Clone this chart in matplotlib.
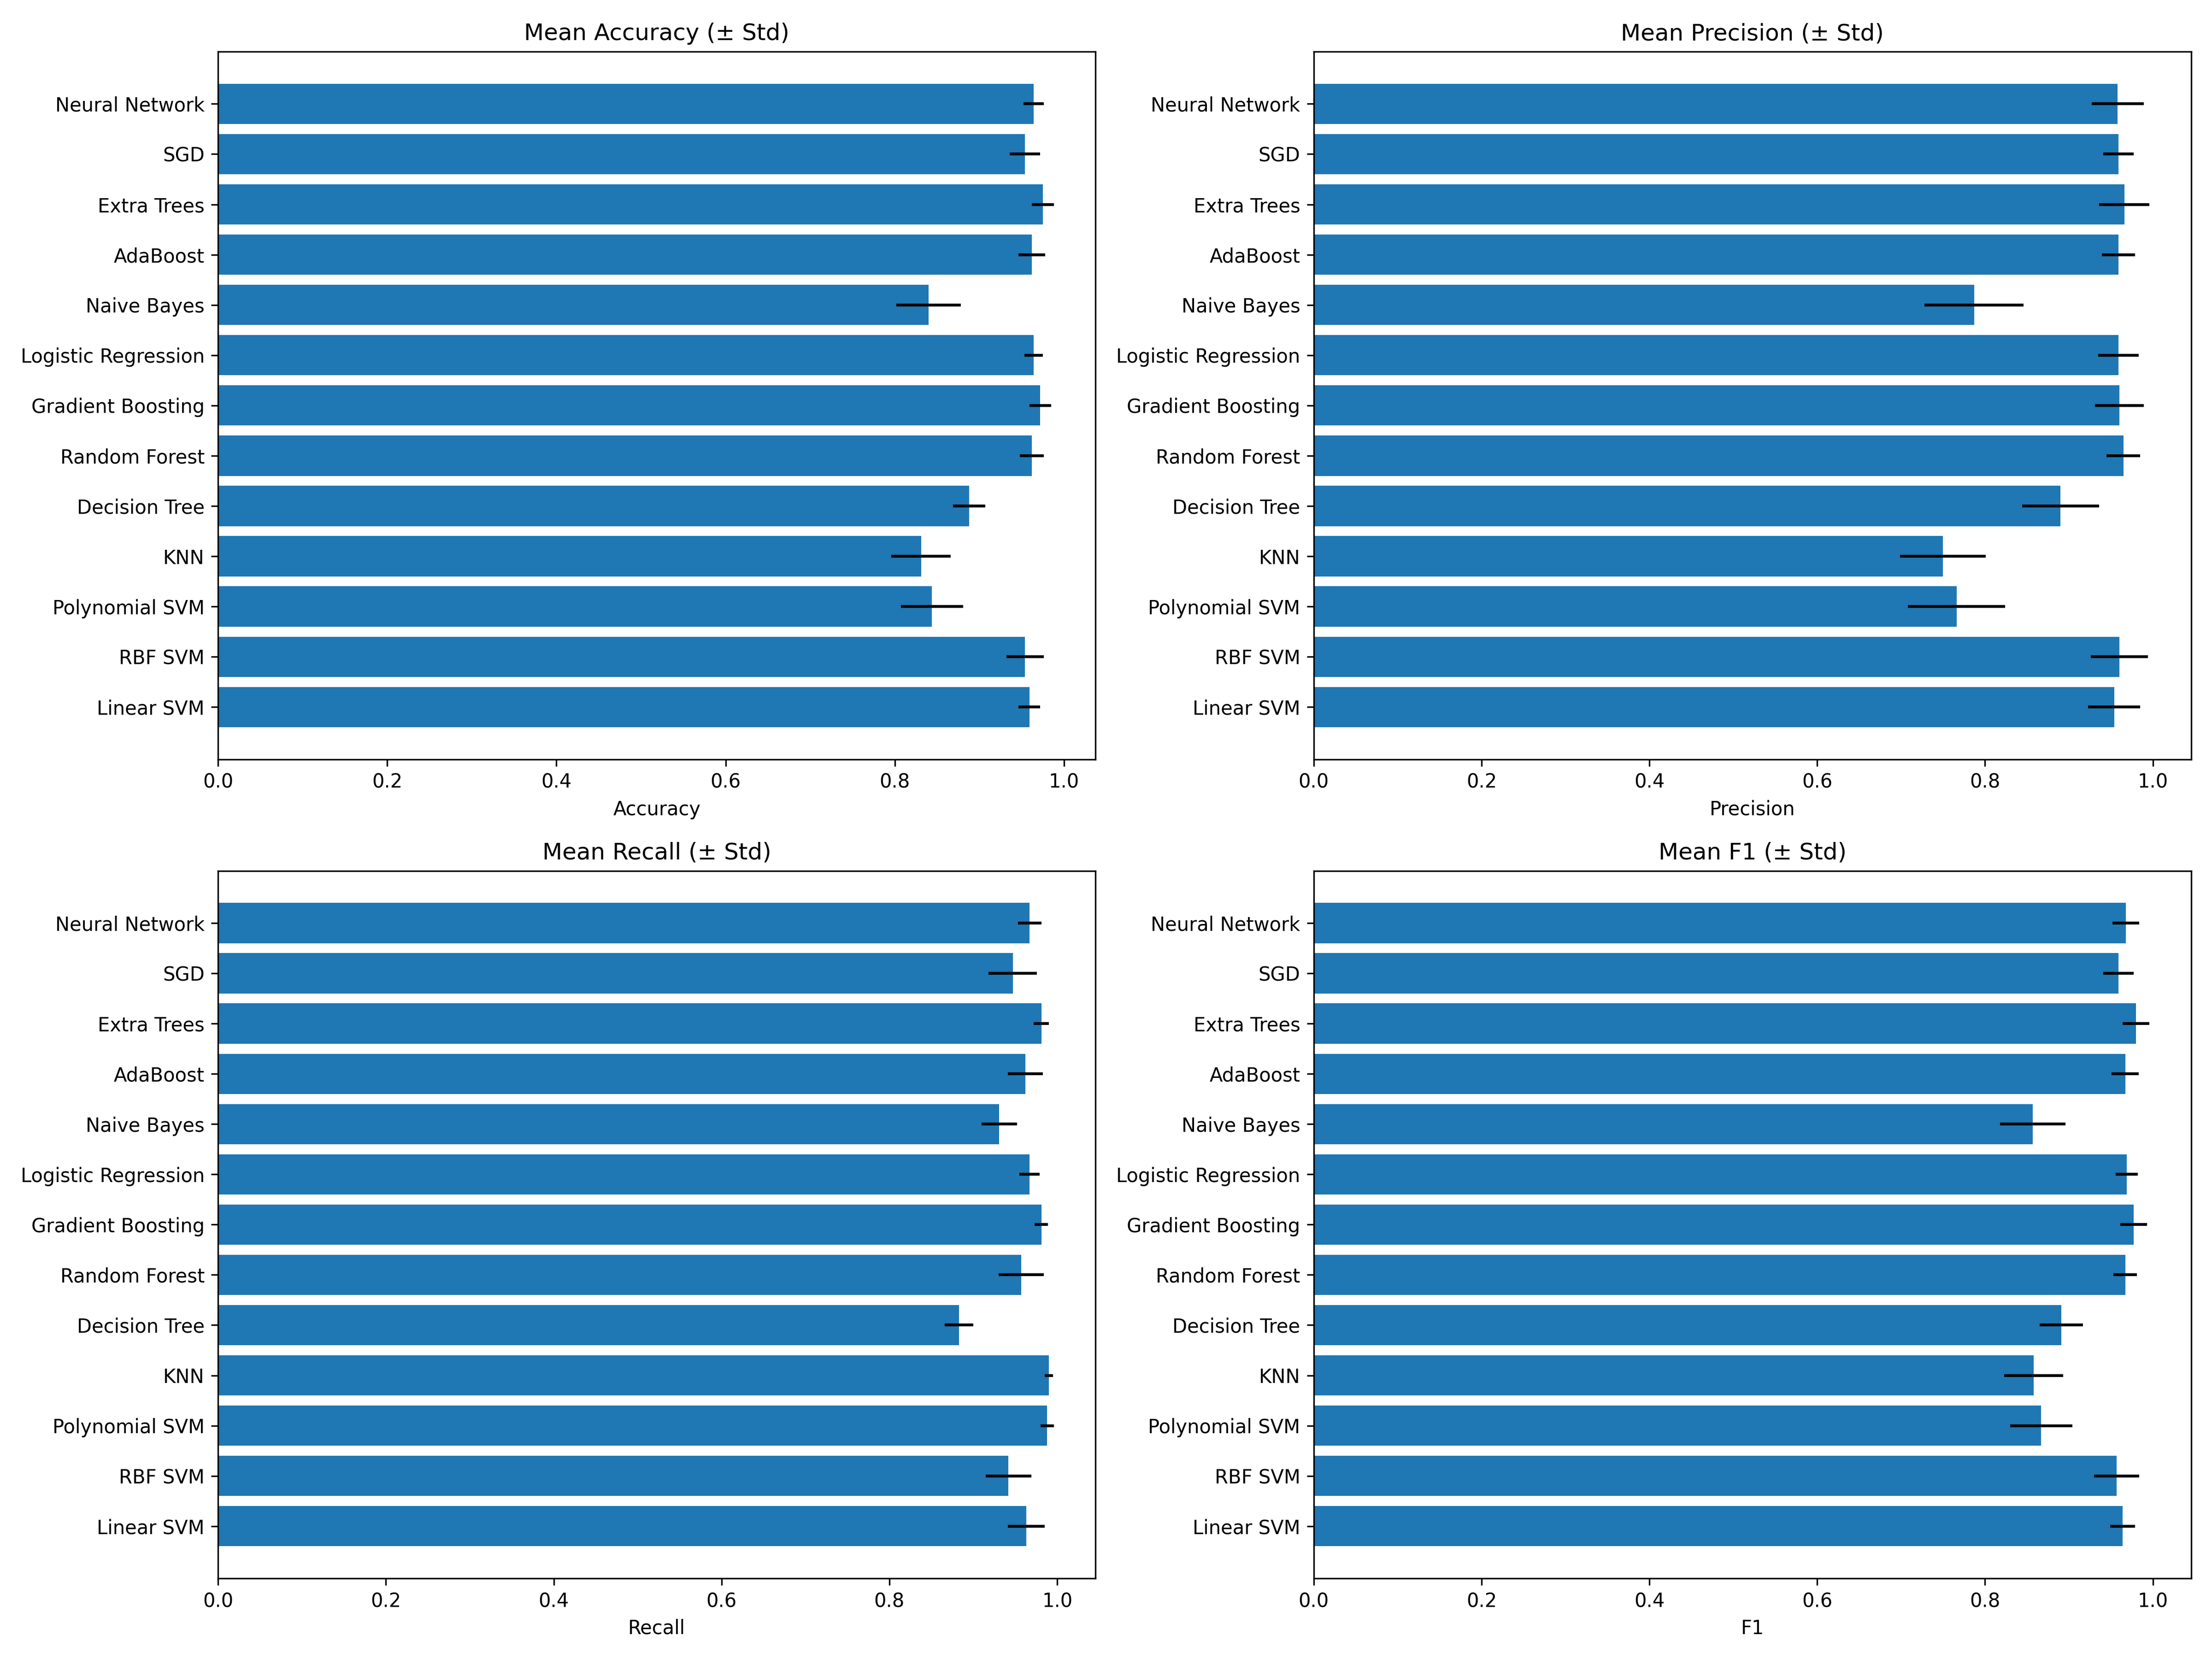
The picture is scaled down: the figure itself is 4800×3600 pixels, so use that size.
import matplotlib
matplotlib.use("Agg")
import matplotlib.pyplot as plt

models = ["Linear SVM", "RBF SVM", "Polynomial SVM", "KNN", "Decision Tree",
          "Random Forest", "Gradient Boosting", "Logistic Regression",
          "Naive Bayes", "AdaBoost", "Extra Trees", "SGD", "Neural Network"]

accuracy_mean = [0.959, 0.954, 0.844, 0.831, 0.888, 0.962, 0.972, 0.964, 0.840, 0.962, 0.975, 0.954, 0.964]
accuracy_std = [0.013, 0.022, 0.037, 0.035, 0.019, 0.014, 0.013, 0.011, 0.038, 0.016, 0.013, 0.018, 0.012]

precision_mean = [0.954, 0.960, 0.766, 0.750, 0.890, 0.965, 0.960, 0.959, 0.787, 0.959, 0.966, 0.959, 0.958]
precision_std = [0.031, 0.034, 0.058, 0.051, 0.046, 0.020, 0.029, 0.024, 0.059, 0.020, 0.030, 0.018, 0.031]

recall_mean = [0.963, 0.942, 0.988, 0.990, 0.883, 0.957, 0.981, 0.967, 0.931, 0.962, 0.981, 0.947, 0.967]
recall_std = [0.022, 0.027, 0.008, 0.005, 0.017, 0.027, 0.008, 0.012, 0.021, 0.021, 0.009, 0.029, 0.014]

f1_mean = [0.964, 0.957, 0.867, 0.858, 0.891, 0.967, 0.977, 0.969, 0.857, 0.967, 0.980, 0.959, 0.968]
f1_std = [0.015, 0.027, 0.037, 0.035, 0.026, 0.014, 0.016, 0.013, 0.039, 0.016, 0.016, 0.018, 0.016]

metrics = [
    ("Accuracy", accuracy_mean, accuracy_std),
    ("Precision", precision_mean, precision_std),
    ("Recall", recall_mean, recall_std),
    ("F1", f1_mean, f1_std),
]

fig, axes = plt.subplots(2, 2, figsize=(16, 12))
for ax, (name, means, stds) in zip(axes.flat, metrics):
    ax.barh(models, means, xerr=stds, color="#1f77b4", ecolor="black")
    ax.set_title(f"Mean {name} (± Std)")
    ax.set_xlabel(name)

fig.tight_layout()
fig.savefig("out.png", dpi=300)
